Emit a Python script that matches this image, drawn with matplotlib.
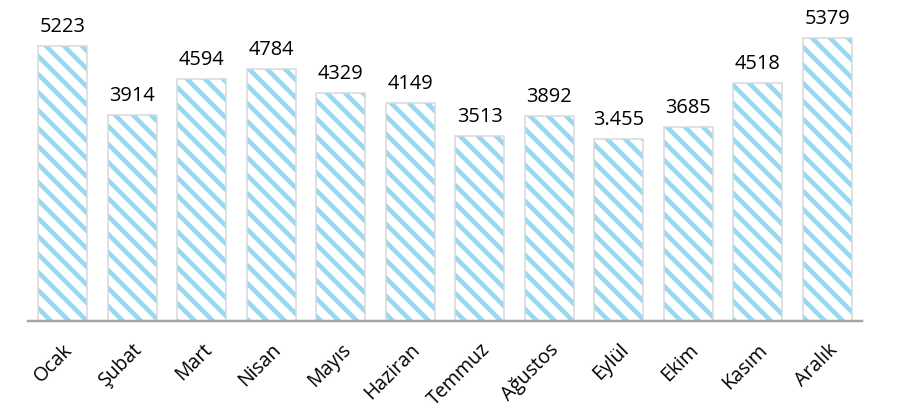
import matplotlib
matplotlib.use('Agg')
import matplotlib.pyplot as plt

# Monthly values, as shown on the chart
months = ['Ocak', 'Şubat', 'Mart', 'Nisan', 'Mayıs', 'Haziran',
          'Temmuz', 'Ağustos', 'Eylül', 'Ekim', 'Kasım', 'Aralık']
values = [5223, 3914, 4594, 4784, 4329, 4149, 3513, 3892, 3455, 3685, 4518, 5379]
value_labels = ['5223', '3914', '4594', '4784', '4329', '4149',
                '3513', '3892', '3.455', '3685', '4518', '5379']

DPI = 108  # hatch cell = 108 px, '\\\\' -> about 18 px between stripes
px = 72 / DPI  # points per pixel

plt.rcParams['font.family'] = ['Open Sans', 'DejaVu Sans']
plt.rcParams['hatch.linewidth'] = 4.6 * px

fig = plt.figure(figsize=(898 / DPI, 410 / DPI), dpi=DPI)
ax = fig.add_axes([28 / 898, 1 - 321 / 410, 834 / 898, 321 / 410])

x = list(range(len(months)))

# striped fill
ax.bar(x, values, width=0.705, color='white', edgecolor='#97d8f2',
       hatch='\\\\', linewidth=0, zorder=2)
# light grey outline like the soft shadow in the original
ax.bar(x, values, width=0.705, fill=False, edgecolor='#d8d8d8',
       linewidth=1.5 * px, zorder=3)

for xi, v, lab in zip(x, values, value_labels):
    ax.annotate(lab, (xi, v), xytext=(0, 9 * px), textcoords='offset points',
                ha='center', va='bottom', fontsize=20 * px, color='black')

ax.set_xlim(-0.5, len(months) - 0.5)
ax.set_ylim(0, 6097)

ax.set_xticks(x)
ax.set_xticklabels(months, rotation=45, ha='right', va='top',
                   rotation_mode='anchor', fontsize=19.5 * px)
ax.tick_params(axis='x', length=0, pad=19 * px)
ax.set_yticks([])

for side in ['top', 'right', 'left']:
    ax.spines[side].set_visible(False)
ax.spines['bottom'].set_color('#a6a6a6')
ax.spines['bottom'].set_linewidth(2.5 * px)
ax.spines['bottom'].set_zorder(4)

fig.savefig('out.png', dpi=DPI)
